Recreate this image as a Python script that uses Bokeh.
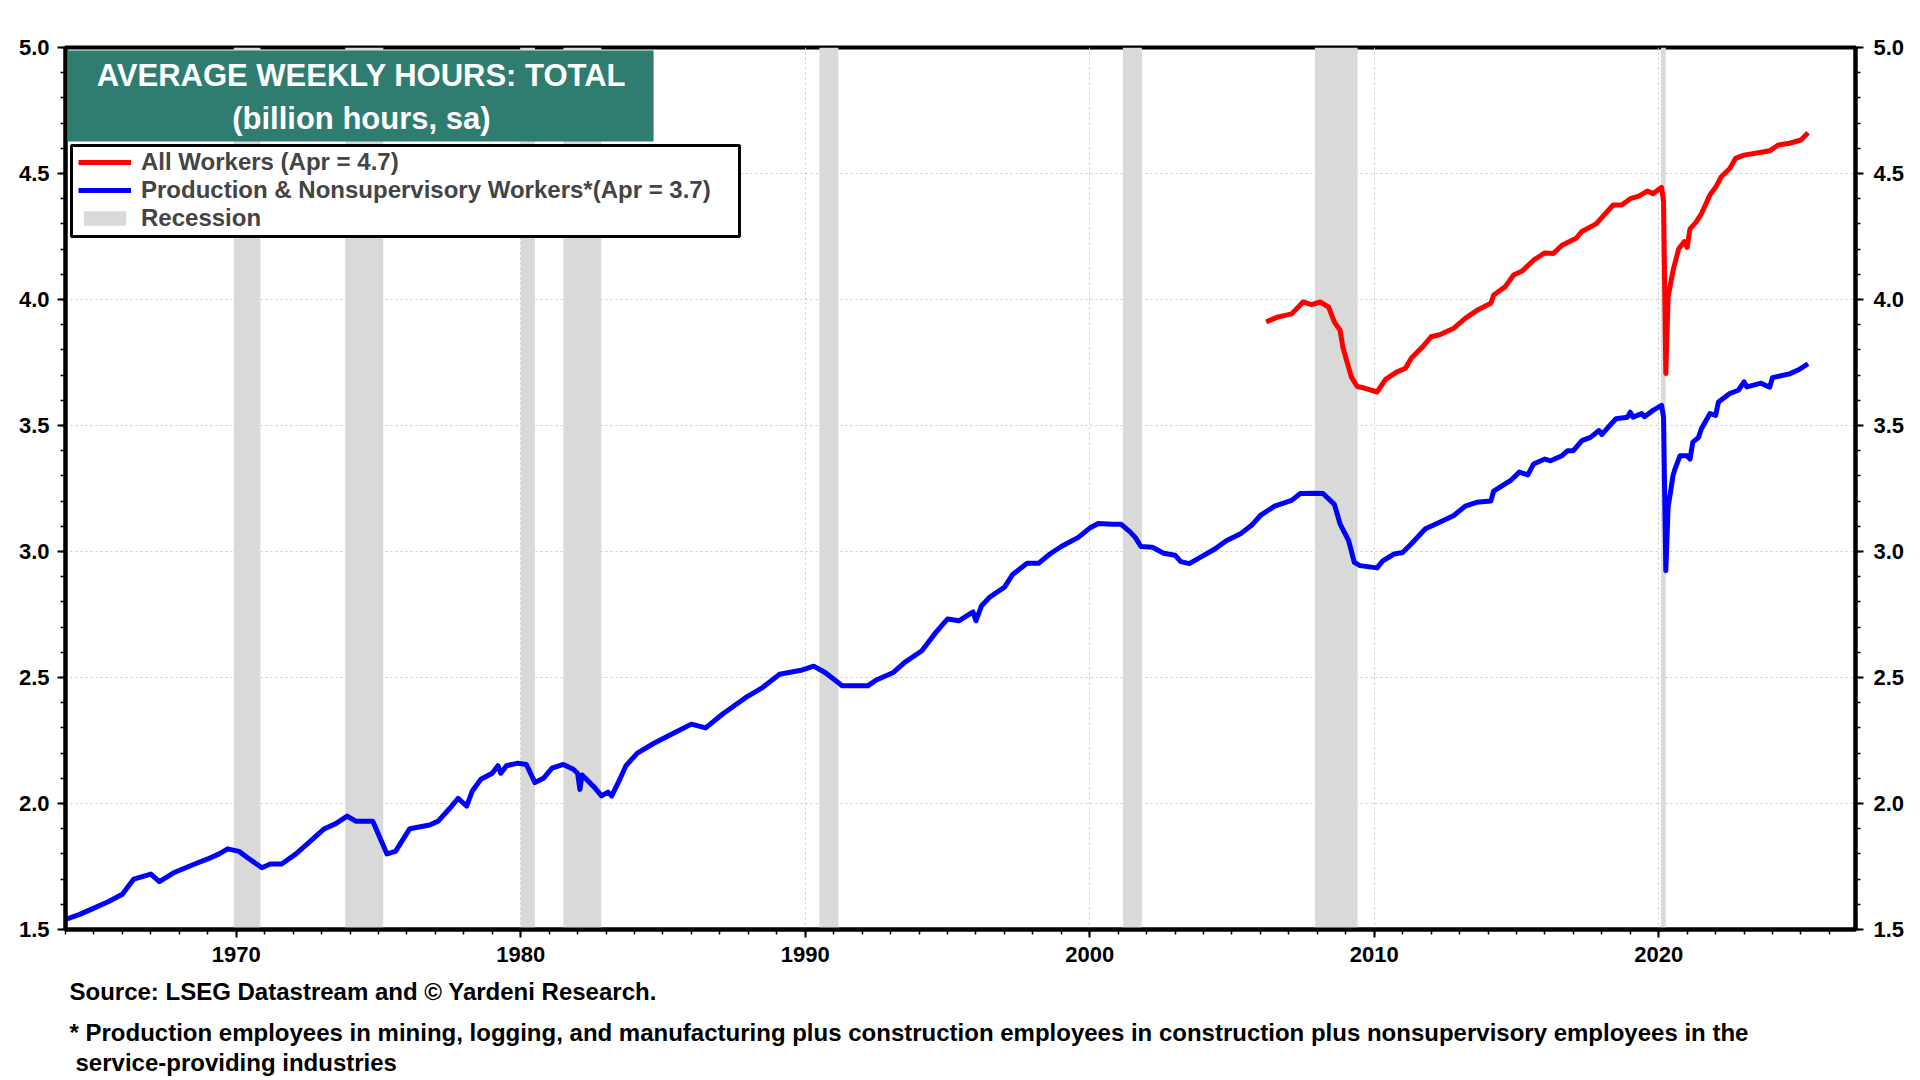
from bokeh.plotting import figure
from bokeh.models import (LinearAxis, FixedTicker, Range1d, BoxAnnotation, Label,
                          Legend, LegendItem, NumeralTickFormatter, Title)
from bokeh.embed import file_html
from bokeh.resources import INLINE

# ---------------- data ----------------
YEAR_TICKS = [1970, 1980, 1990, 2000, 2010, 2020]
YEAR_MINOR = list(range(1964, 2027))
Y_TICKS = [1.5, 2.0, 2.5, 3.0, 3.5, 4.0, 4.5, 5.0]
Y_MINOR = [1.5, 1.6, 1.7, 1.8, 1.9, 2.0, 2.1, 2.2, 2.3, 2.4, 2.5, 2.6, 2.7, 2.8, 2.9,
           3.0, 3.1, 3.2, 3.3, 3.4, 3.5, 3.6, 3.7, 3.8, 3.9, 4.0, 4.1, 4.2, 4.3, 4.4,
           4.5, 4.6, 4.7, 4.8, 4.9, 5.0]

REC_START = [1969.917, 1973.833, 1980.0, 1981.5, 1990.5, 2001.167, 2007.917, 2020.083]
REC_END = [1970.85, 1975.167, 1980.5, 1982.833, 1991.167, 2001.833, 2009.417, 2020.25]

# Production & Nonsupervisory Workers (billion hours)
PROD_X = [1964.0, 1964.5, 1964.9, 1965.5, 1966.0, 1966.4, 1966.7, 1967.0, 1967.3, 1967.8,
          1968.5, 1969.0, 1969.4, 1969.7, 1970.1, 1970.4, 1970.9, 1971.2, 1971.6, 1972.1,
          1972.5, 1973.1, 1973.5, 1973.9, 1974.2, 1974.8, 1975.3, 1975.6, 1976.1, 1976.8,
          1977.1, 1977.5, 1977.8, 1978.1, 1978.3, 1978.6, 1979.0, 1979.2, 1979.3, 1979.5,
          1979.9, 1980.2, 1980.5, 1980.8, 1981.1, 1981.5, 1981.85, 1982.0, 1982.08, 1982.16,
          1982.6, 1982.84, 1983.07, 1983.2, 1983.5, 1983.7, 1984.1, 1984.7, 1985.3, 1986.0,
          1986.5, 1987.1, 1987.9, 1988.5, 1989.1, 1989.9, 1990.3, 1990.7, 1991.3, 1992.2,
          1992.5, 1993.1, 1993.5, 1994.1, 1994.6, 1995.0, 1995.4, 1995.9, 1996.0, 1996.2,
          1996.5, 1997.0, 1997.3, 1997.8, 1998.2, 1998.6, 1999.0, 1999.6, 2000.0, 2000.3,
          2000.8, 2001.1, 2001.4, 2001.6, 2001.8, 2002.2, 2002.6, 2003.0, 2003.2, 2003.5,
          2003.9, 2004.4, 2004.8, 2005.3, 2005.7, 2006.0, 2006.5, 2007.1, 2007.4, 2007.9,
          2008.2, 2008.6, 2008.8, 2009.1, 2009.3, 2009.5, 2010.1, 2010.3, 2010.7, 2011.0,
          2011.3, 2011.8, 2012.3, 2012.8, 2013.2, 2013.6, 2014.1, 2014.2, 2014.8, 2015.1,
          2015.4, 2015.6, 2016.0, 2016.2, 2016.6, 2016.8, 2017.0, 2017.3, 2017.6, 2017.9,
          2018.0, 2018.2, 2018.5, 2018.9, 2019.0, 2019.1, 2019.4, 2019.5, 2019.8, 2020.1,
          2020.17, 2020.25, 2020.33, 2020.42, 2020.5, 2020.58, 2020.75, 2021.0, 2021.1, 2021.2,
          2021.4, 2021.5, 2021.8, 2022.0, 2022.1, 2022.5, 2022.8, 2023.0, 2023.1, 2023.6,
          2023.9, 2024.0, 2024.6, 2024.9, 2025.25]
PROD_Y = [1.54, 1.56, 1.58, 1.61, 1.64, 1.70, 1.71, 1.72, 1.69, 1.725,
          1.758, 1.78, 1.80, 1.82, 1.81, 1.785, 1.745, 1.76, 1.76, 1.80,
          1.84, 1.90, 1.92, 1.95, 1.93, 1.93, 1.80, 1.81, 1.90, 1.915,
          1.93, 1.98, 2.02, 1.99, 2.05, 2.096, 2.12, 2.15, 2.12, 2.15,
          2.16, 2.155, 2.083, 2.10, 2.14, 2.155, 2.136, 2.12, 2.056, 2.113,
          2.063, 2.03, 2.045, 2.03, 2.10, 2.15, 2.20, 2.24, 2.275, 2.315,
          2.30, 2.355, 2.42, 2.46, 2.513, 2.53, 2.545, 2.52, 2.467, 2.467,
          2.49, 2.52, 2.56, 2.606, 2.68, 2.732, 2.725, 2.76, 2.725, 2.785,
          2.82, 2.858, 2.91, 2.953, 2.953, 2.99, 3.02, 3.056, 3.093, 3.111,
          3.108, 3.108, 3.08, 3.056, 3.02, 3.017, 2.993, 2.985, 2.96, 2.952,
          2.978, 3.01, 3.043, 3.07, 3.105, 3.143, 3.18, 3.203, 3.23, 3.231,
          3.23, 3.187, 3.11, 3.043, 2.957, 2.944, 2.935, 2.963, 2.99, 2.996,
          3.03, 3.09, 3.116, 3.143, 3.18, 3.195, 3.20, 3.24, 3.282, 3.315,
          3.304, 3.347, 3.367, 3.36, 3.38, 3.40, 3.40, 3.44, 3.453, 3.48,
          3.464, 3.49, 3.527, 3.533, 3.553, 3.533, 3.547, 3.535, 3.56, 3.58,
          3.533, 2.924, 3.176, 3.24, 3.30, 3.33, 3.38, 3.38, 3.367, 3.434,
          3.453, 3.487, 3.547, 3.54, 3.593, 3.627, 3.64, 3.673, 3.653, 3.668,
          3.652, 3.69, 3.705, 3.72, 3.745]

# All Workers (billion hours)
ALL_X = [2006.2, 2006.6, 2007.1, 2007.5, 2007.8, 2008.1, 2008.4, 2008.6, 2008.8, 2008.9,
         2009.0, 2009.2, 2009.4, 2009.6, 2010.1, 2010.4, 2010.8, 2011.1, 2011.3, 2011.7,
         2012.0, 2012.3, 2012.8, 2013.2, 2013.6, 2014.1, 2014.2, 2014.6, 2014.9, 2015.2,
         2015.6, 2016.0, 2016.3, 2016.6, 2017.1, 2017.3, 2017.8, 2018.4, 2018.7, 2019.0,
         2019.3, 2019.6, 2019.8, 2020.1, 2020.17, 2020.25, 2020.33, 2020.5, 2020.7, 2020.9,
         2021.0, 2021.1, 2021.3, 2021.5, 2021.8, 2022.0, 2022.2, 2022.5, 2022.7, 2023.0,
         2023.4, 2023.9, 2024.2, 2024.6, 2025.0, 2025.25]
ALL_Y = [3.911, 3.93, 3.943, 3.99, 3.98, 3.99, 3.97, 3.91, 3.878, 3.81,
         3.77, 3.692, 3.655, 3.65, 3.633, 3.683, 3.713, 3.727, 3.767, 3.812,
         3.852, 3.86, 3.886, 3.925, 3.956, 3.985, 4.018, 4.05, 4.097, 4.113,
         4.156, 4.185, 4.183, 4.215, 4.243, 4.27, 4.30, 4.375, 4.375, 4.40,
         4.41, 4.43, 4.42, 4.445, 4.39, 3.706, 4.01, 4.113, 4.20, 4.23,
         4.207, 4.28, 4.305, 4.34, 4.415, 4.445, 4.487, 4.52, 4.56, 4.573,
         4.58, 4.59, 4.613, 4.62, 4.633, 4.662]

TITLE1 = "AVERAGE WEEKLY HOURS: TOTAL"
TITLE2 = "(billion hours, sa)"
LEG_ALL = "All Workers (Apr = 4.7)"
LEG_PROD = "Production & Nonsupervisory Workers*(Apr = 3.7)"
LEG_REC = "Recession"
FOOT1 = "Source: LSEG Datastream and \u00a9 Yardeni Research."
FOOT2 = ("* Production employees in mining, logging, and manufacturing plus construction "
         "employees in construction plus nonsupervisory employees in the")
FOOT3 = "service-providing industries"

FONT = "Liberation Sans"
TEAL = "#2E7D70"

# ---------------- figure ----------------
p = figure(width=1912, height=1078, output_backend="svg", toolbar_location=None,
           x_range=Range1d(1964.0, 2026.917), y_range=Range1d(1.5, 5.0),
           min_border_left=65, min_border_right=57, min_border_top=47,
           min_border_bottom=149, background_fill_color="white",
           border_fill_color="white")
p.outline_line_color = "black"
p.outline_line_width = 4

p.add_layout(LinearAxis(), "right")

p.xaxis.ticker = FixedTicker(ticks=YEAR_TICKS, minor_ticks=YEAR_MINOR)
for ax in p.yaxis:
    ax.ticker = FixedTicker(ticks=Y_TICKS, minor_ticks=Y_MINOR)
    ax.formatter = NumeralTickFormatter(format="0.0")

for ax in p.axis:
    ax.axis_line_width = 4
    ax.axis_line_color = "black"
    ax.major_tick_line_width = 2
    ax.major_tick_line_color = "black"
    ax.major_tick_out = 8
    ax.major_tick_in = 0
    ax.minor_tick_line_width = 1.5
    ax.minor_tick_line_color = "black"
    ax.minor_tick_out = 5
    ax.minor_tick_in = 0
    ax.major_label_text_font = FONT
    ax.major_label_text_font_style = "bold"
    ax.major_label_text_font_size = "22px"
    ax.major_label_text_color = "black"
p.xaxis.major_label_standoff = 9
p.yaxis[0].major_label_standoff = 8
p.yaxis[1].major_label_standoff = 10

p.xgrid.ticker = FixedTicker(ticks=YEAR_TICKS)
for g in (p.xgrid, p.ygrid):
    g.grid_line_color = "#C8C8C8"
    g.grid_line_dash = "2 3"
    g.grid_line_width = 1

rec = p.quad(left=REC_START, right=REC_END, bottom=1.5, top=5.0,
             fill_color="#D9D9D9", line_alpha=0)
prod = p.line(PROD_X, PROD_Y, line_color="#0000FF", line_width=5, line_join="round")
allw = p.line(ALL_X, ALL_Y, line_color="#FF0000", line_width=5, line_join="round")

# title box
p.add_layout(BoxAnnotation(left=1964.07, right=1984.67, top=4.988, bottom=4.627,
                           fill_color=TEAL, fill_alpha=1.0, line_alpha=0))
for txt, yy in ((TITLE1, 4.889), (TITLE2, 4.718)):
    p.add_layout(Label(x=1974.40, y=yy, text=txt, text_align="center",
                       text_baseline="middle", text_color="white",
                       text_font=FONT, text_font_style="bold", text_font_size="31px"))

# legend box
p.add_layout(BoxAnnotation(left=1964.21, right=1987.69, top=4.611, bottom=4.250,
                           fill_color="white", fill_alpha=1.0, line_color="black",
                           line_alpha=1.0, line_width=3))
legend = Legend(items=[LegendItem(label=LEG_ALL, renderers=[allw]),
                       LegendItem(label=LEG_PROD, renderers=[prod]),
                       LegendItem(label=LEG_REC, renderers=[rec])],
                location=(7, 691), background_fill_alpha=0, border_line_alpha=0,
                label_text_font=FONT, label_text_font_style="bold",
                label_text_font_size="24px", glyph_width=53, glyph_height=18,
                label_standoff=10, padding=6, spacing=0, margin=0)
p.add_layout(legend)

# footer (titles below the x axis)
for txt, off, sto in ((FOOT1, 4, 23), (FOOT2, 4, 0), (FOOT3, 10, 2)):
    p.add_layout(Title(text=txt, align="left", offset=off, standoff=sto,
                       text_font=FONT, text_font_style="bold", text_font_size="24px",
                       text_color="black"), "below")

open("out.html", "w").write(file_html(p, INLINE))
